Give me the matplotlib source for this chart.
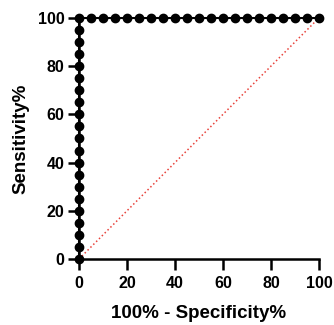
import matplotlib.pyplot as plt

plt.rcParams['font.family'] = ['Liberation Sans', 'DejaVu Sans']
plt.rcParams['font.weight'] = 'bold'

# ROC curve points (100% - specificity, sensitivity)
spec = [0] * 21 + [5, 10, 15, 20, 25, 30, 35, 40, 45, 50, 55, 60, 65, 70, 75, 80, 85, 90, 95, 100]
sens = [0, 5, 10, 15, 20, 25, 30, 35, 40, 45, 50, 55, 60, 65, 70, 75, 80, 85, 90, 95, 100] + [100] * 20
ref_line = [0, 100]
ticks = [0, 20, 40, 60, 80, 100]

fig = plt.figure(figsize=(3.34, 3.25), dpi=100)
ax = fig.add_axes([0.2365, 0.203, 0.7185, 0.742])

ax.plot(ref_line, ref_line, color='#e8413a', linestyle=':', linewidth=1.1)
ax.plot(spec, sens, color='black', linewidth=1.5, marker='o', markersize=6,
        clip_on=False, zorder=3)

ax.set_xlim(0, 100)
ax.set_ylim(0, 100)
ax.set_xticks(ticks)
ax.set_yticks(ticks)
for s in ['top', 'right']:
    ax.spines[s].set_visible(False)
for s in ['left', 'bottom']:
    ax.spines[s].set_linewidth(1.8)
ax.tick_params(width=1.8, length=8, labelsize=11.5)
ax.tick_params(axis='x', pad=4)
ax.tick_params(axis='y', pad=2.5)
for lab in ax.get_xticklabels() + ax.get_yticklabels():
    lab.set_fontweight('bold')

ax.set_xlabel('100% - Specificity%', fontsize=13.5, fontweight='bold', labelpad=10)
ax.set_ylabel('Sensitivity%', fontsize=13.5, fontweight='bold', labelpad=6)

fig.savefig('out.png', dpi=100)
